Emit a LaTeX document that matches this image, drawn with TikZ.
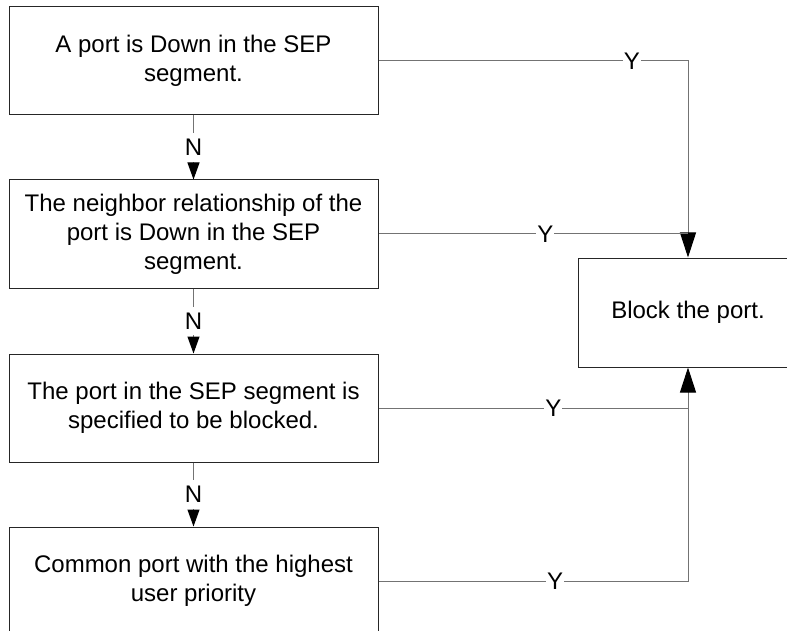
\documentclass[tikz,border=0pt]{standalone}
\usepackage{fontspec}
\setmainfont{Liberation Sans}
\usetikzlibrary{arrows.meta}
\begin{document}
\begin{tikzpicture}[x=1pt,y=-1pt,
  txt/.style={font=\fontsize{24}{29}\selectfont, text=black},
  box/.style={txt, draw=black!85, line width=1pt, minimum width=369pt, minimum height=108pt, align=center, inner sep=0pt},
  conn/.style={draw=black!55, line width=1pt},
  ylbl/.style={txt, fill=white, inner xsep=1pt, inner ysep=0pt},
  nlbl/.style={txt, fill=white, inner xsep=1pt, inner ysep=6pt},
  bigtip/.style={-{Triangle[width=16pt,length=25pt,color=black]}},
  smalltip/.style={-{Triangle[width=12pt,length=17pt,color=black]}}]
\useasboundingbox (0,0) rectangle (787,631);
\clip (0,0) rectangle (787,631);
\node[box] (b1) at (193.5,61) {A port is Down in the SEP\\segment.};
\node[box] (b2) at (193.5,234) {The neighbor relationship of the\\port is Down in the SEP\\segment.};
\node[box] (b3) at (193.5,408) {The port in the SEP segment is\\specified to be blocked.};
\node[box] (b4) at (193.5,581) {Common port with the highest\\user priority};
\node[box, minimum width=220pt, minimum height=109pt] (blk) at (688,312.5) {Block the port.};
\draw[conn,smalltip] (b1.south) -- node[nlbl]{N} (b2.north);
\draw[conn,smalltip] (b2.south) -- node[nlbl]{N} (b3.north);
\draw[conn,smalltip] (b3.south) -- node[nlbl]{N} (b4.north);
\draw[conn,bigtip] (b1.east) -- node[ylbl,pos=0.819]{Y} (b1.east -| blk.north) -- (blk.north);
\draw[conn] (b2.east) -- node[ylbl,pos=0.539]{Y} (b2.east -| blk.north);
\draw[conn,bigtip] (b3.east) -- node[ylbl,pos=0.565]{Y} (b3.east -| blk.south) -- (blk.south);
\draw[conn] (b4.east) -- node[ylbl,pos=0.571]{Y} (b4.east -| blk.south) -- (b3.east -| blk.south);
\end{tikzpicture}
\end{document}
